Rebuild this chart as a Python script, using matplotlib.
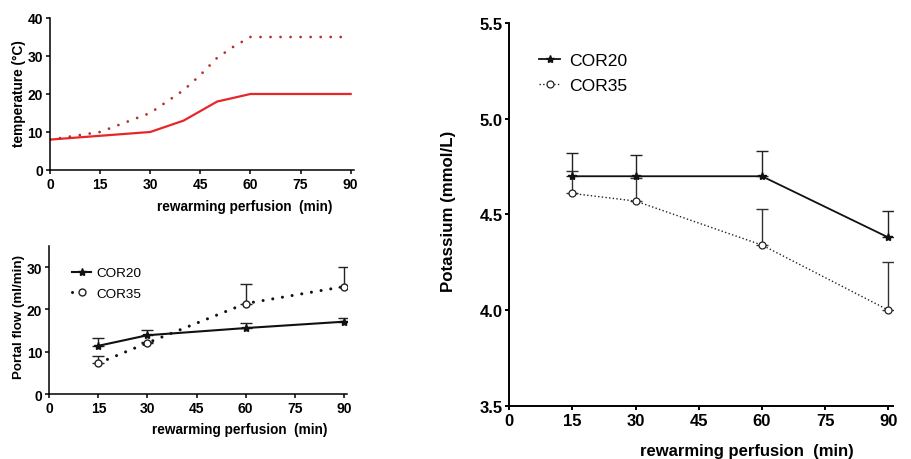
import numpy as np
import matplotlib
matplotlib.use("Agg")
import matplotlib.pyplot as plt

plt.rcParams['font.family'] = ['Liberation Sans', 'DejaVu Sans']

# Temperature profiles (deg C)
temp_x_20 = [0, 15, 30, 40, 50, 60, 90]
temp_y_20 = [8, 9, 10, 13, 18, 20, 20]
temp_x_35 = [0, 15, 30, 40, 45, 50, 55, 60, 90]
temp_y_35 = [8, 10, 15, 21, 25, 29.5, 32.5, 35, 35]

# Portal flow (ml/min)
time_pts = [15, 30, 60, 90]
flow_cor20 = [11.4, 13.9, 15.6, 17.1]
flow_cor20_err = [1.9, 1.3, 1.3, 0.9]
flow_cor35 = [7.3, 12.1, 21.4, 25.4]
flow_cor35_err = [1.7, 0.3, 4.5, 4.6]

# Potassium (mmol/L)
k_cor20 = [4.70, 4.70, 4.70, 4.38]
k_cor20_err = [0.12, 0.11, 0.13, 0.14]
k_cor35 = [4.61, 4.57, 4.34, 4.00]
k_cor35_err = [0.12, 0.12, 0.19, 0.25]

xticks = [0, 15, 30, 45, 60, 75, 90]

fig = plt.figure(figsize=(9.11, 4.6), dpi=100)
ax1 = fig.add_axes([0.0549, 0.6283, 0.3337, 0.3304])
ax2 = fig.add_axes([0.0541, 0.1413, 0.3270, 0.3217])
ax3 = fig.add_axes([0.5591, 0.1159, 0.4206, 0.8313])


def style(ax, fs, lw):
    for s in ['top', 'right']:
        ax.spines[s].set_visible(False)
    for s in ['left', 'bottom']:
        ax.spines[s].set_linewidth(lw)
    ax.tick_params(direction='out', length=3, width=lw, labelsize=fs, pad=2)
    for lab in ax.get_xticklabels() + ax.get_yticklabels():
        lab.set_fontweight('bold')
    ax.set_xticks(xticks)
    ax.set_xlim(0, 91)


# temperature panel
ax1.plot(temp_x_20, temp_y_20, color='#e8262a', lw=1.6)
ax1.plot(temp_x_35, temp_y_35, color='#b3302c', lw=2.0,
         linestyle=(0, (0.01, 3.6)), dash_capstyle='round')
ax1.set_ylim(0, 40)
ax1.set_yticks([0, 10, 20, 30, 40])
style(ax1, 10, 1.1)
ax1.set_ylabel('temperature (°C)', fontsize=9.8, fontweight='bold')
ax1.yaxis.set_label_coords(-0.078, 0.51)
ax1.set_xlabel('rewarming perfusion  (min)', fontsize=9.8, fontweight='bold')
ax1.xaxis.set_label_coords(0.64, -0.19)

# portal flow panel
z = np.zeros(4)
ax2.errorbar(time_pts, flow_cor35, yerr=[z, flow_cor35_err], fmt='none',
             ecolor='#222222', elinewidth=1, capsize=4, capthick=1)
ax2.errorbar(time_pts, flow_cor20, yerr=[z, flow_cor20_err], fmt='none',
             ecolor='#222222', elinewidth=1, capsize=4, capthick=1)
ax2.plot(time_pts, flow_cor35, color='#111111', lw=2.2,
         linestyle=(0, (0.01, 3.2)), dash_capstyle='round',
         marker='o', ms=5, mfc='white', mec='#222222', mew=1,
         label='COR35')
ax2.plot(time_pts, flow_cor20, color='#111111', lw=1.5,
         marker='*', ms=6, mec='#111111', label='COR20')
ax2.set_ylim(0, 35)
ax2.set_yticks([0, 10, 20, 30])
style(ax2, 10, 1.1)
ax2.set_ylabel('Portal flow (ml/min)', fontsize=9.6, fontweight='bold')
ax2.yaxis.set_label_coords(-0.08, 0.53)
ax2.set_xlabel('rewarming perfusion  (min)', fontsize=9.8, fontweight='bold')
ax2.xaxis.set_label_coords(0.64, -0.19)
h, l = ax2.get_legend_handles_labels()
ax2.legend(h[::-1], l[::-1], loc='upper left', bbox_to_anchor=(0.037, 0.94),
           frameon=False, fontsize=9.7, handlelength=1.4, handletextpad=0.4,
           labelspacing=0.6)

# potassium panel
ax3.errorbar(time_pts, k_cor35, yerr=[z, k_cor35_err], fmt='none',
             ecolor='#333333', elinewidth=1, capsize=4.5, capthick=1)
ax3.errorbar(time_pts, k_cor20, yerr=[z, k_cor20_err], fmt='none',
             ecolor='#222222', elinewidth=1, capsize=4.5, capthick=1)
ax3.plot(time_pts, k_cor20, color='#111111', lw=1.3,
         marker='*', ms=6, mec='#111111', label='COR20')
ax3.plot(time_pts, k_cor35, color='#222222', lw=1.0, linestyle=':',
         marker='o', ms=5, mfc='white', mec='#222222', mew=0.9,
         label='COR35')
ax3.set_ylim(3.5, 5.5)
ax3.set_yticks([3.5, 4.0, 4.5, 5.0, 5.5])
ax3.set_yticklabels(['3.5', '4.0', '4.5', '5.0', '5.5'])
style(ax3, 12, 1.4)
ax3.set_ylabel('Potassium (mmol/L)', fontsize=12.2, fontweight='bold')
ax3.yaxis.set_label_coords(-0.14, 0.51)
ax3.set_xlabel('rewarming perfusion  (min)', fontsize=12, fontweight='bold')
ax3.xaxis.set_label_coords(0.62, -0.097)
ax3.legend(loc='upper left', bbox_to_anchor=(0.037, 0.964), frameon=False,
           fontsize=12.6, handlelength=1.2, handletextpad=0.5,
           labelspacing=0.55)

fig.savefig('out.png', dpi=100)
